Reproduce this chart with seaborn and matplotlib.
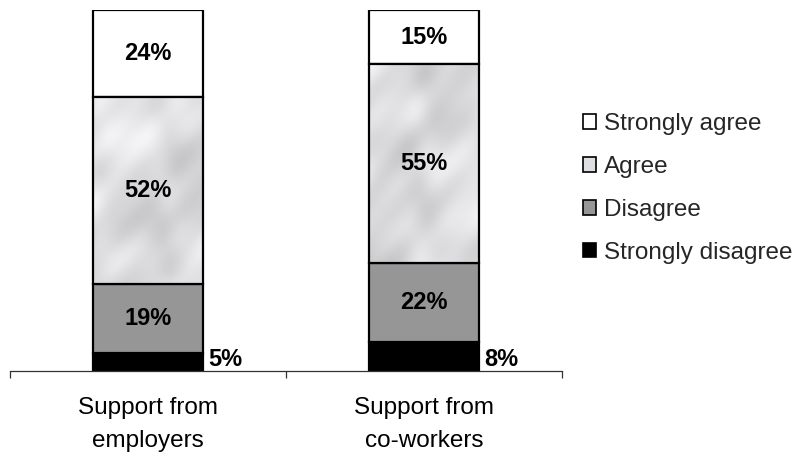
import numpy as np
import pandas as pd
import matplotlib
matplotlib.use("Agg")
import matplotlib.pyplot as plt
from matplotlib.patches import Patch
import seaborn as sns

# Survey shares (%) per source of support
categories = ["Support from\nemployers", "Support from\nco-workers"]
levels = ["Strongly disagree", "Disagree", "Agree", "Strongly agree"]
strongly_disagree = [5, 8]
disagree = [19, 22]
agree = [52, 55]
strongly_agree = [24, 15]

level_colors = {
    "Strongly disagree": "#000000",
    "Disagree": "#969696",
    "Agree": "#dedfe2",
    "Strongly agree": "#ffffff",
}

sns.set_theme(style="white")
plt.rcParams["font.family"] = ["Liberation Sans", "DejaVu Sans"]

fig = plt.figure(figsize=(8.09, 4.58), dpi=100)
ax = fig.add_axes([10 / 809, 87 / 458, 552 / 809, 361 / 458])


def marble(w, h, phase):
    """Soft grey marble-like texture built from layered sinusoids."""
    yy, xx = np.mgrid[0:h, 0:w] / 38.0
    t = (np.sin(1.3 * xx + 0.7 * yy + 0.9 * np.sin(2.1 * yy + 1.7 * xx) + phase)
         + 0.6 * np.sin(2.7 * xx - 1.9 * yy + 1.1 + 0.8 * np.sin(3.3 * xx + phase))
         + 0.4 * np.sin(4.1 * yy + 0.9 * xx + 2.3)
         + 0.3 * np.sin(6.3 * xx + 5.1 * yy + 0.4 * phase))
    t = (t - t.min()) / (t.max() - t.min())
    g = 0.78 + 0.18 * t
    return np.dstack([g, g, np.clip(g + 0.012, 0, 1)])


series = dict(zip(levels, [strongly_disagree, disagree, agree, strongly_agree]))
base = np.zeros(len(categories))
for lvl in levels:
    vals = np.asarray(series[lvl], dtype=float)
    df = pd.DataFrame({"source": categories, "share": vals})
    n_before = len(ax.patches)
    sns.barplot(data=df, x="source", y="share", order=categories,
                color=level_colors[lvl], saturation=1, width=0.4,
                errorbar=None, edgecolor="black", linewidth=1.6,
                bottom=base, ax=ax)
    bars = ax.patches[n_before:]
    for i, (bar, v) in enumerate(zip(bars, vals)):
        x0, y0 = bar.get_x(), bar.get_y()
        w, h = bar.get_width(), bar.get_height()
        if lvl == "Agree":
            bar.set_facecolor("none")
            bar.set_zorder(2)
            ax.imshow(marble(110, 190, 1.7 * i), extent=(x0, x0 + w, y0, y0 + h),
                      aspect="auto", zorder=1.5, interpolation="bilinear")
        if lvl == "Strongly disagree":
            ax.annotate(f"{v:g}%", xy=(x0 + w, y0), xytext=(3.5, 3.8),
                        textcoords="offset points", ha="left", va="baseline",
                        fontsize=17, fontweight="bold", color="black")
        else:
            ax.text(x0 + w / 2, y0 + h / 2, f"{v:g}%", ha="center", va="center",
                    fontsize=17, fontweight="bold", color="black", zorder=3)
    base = base + vals

ax.set_xlim(-0.5, len(categories) - 0.5)
ax.set_ylim(0, 100)
ax.set_xlabel("")
ax.set_ylabel("")
ax.set_yticks([])
for side in ("left", "right", "top"):
    ax.spines[side].set_visible(False)
ax.spines["bottom"].set_color("#333333")
ax.spines["bottom"].set_linewidth(0.9)

ax.set_xticks(np.arange(-0.5, len(categories)), minor=True)
ax.tick_params(axis="x", which="major", length=0, pad=19, labelsize=17.5,
               labelcolor="black")
ax.tick_params(axis="x", which="minor", length=5, width=0.9, color="#333333",
               direction="out", bottom=True)
for lab in ax.get_xticklabels():
    lab.set_linespacing(1.65)

handles = [Patch(facecolor=level_colors[lvl], edgecolor="black", linewidth=1.2, label=lvl)
           for lvl in reversed(levels)]
fig.legend(handles=handles, loc="upper left", bbox_to_anchor=(583 / 809, 1 - 113 / 458),
           frameon=False, fontsize=17.5, handlelength=0.55, handleheight=0.55,
           handletextpad=0.33, labelspacing=0.86, borderpad=0, borderaxespad=0)

fig.savefig("out.png", dpi=100)
